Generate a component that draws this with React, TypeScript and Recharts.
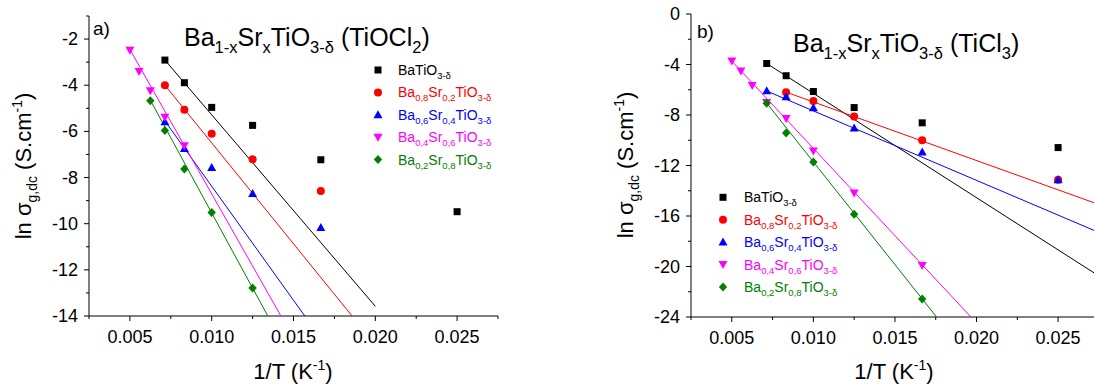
import React from 'react';
import { ScatterChart, Scatter, XAxis, YAxis } from 'recharts';

const FONT = '"Liberation Sans", Arial, sans-serif';

const BLACK = '#000000';
const RED = '#ff0000';
const BLUE = '#0000ff';
const MAGENTA = '#ff00ff';
const GREEN = '#008000';

// ---- panel a) TiOCl2 : measured points (1/T, ln sigma) ----
const aBa10 = [
  { x: 0.00714, y: -2.91 }, { x: 0.00833, y: -3.89 }, { x: 0.01, y: -4.96 },
  { x: 0.0125, y: -5.74 }, { x: 0.01667, y: -7.23 }, { x: 0.025, y: -9.48 },
];
const aBa08 = [
  { x: 0.00714, y: -4.0 }, { x: 0.00833, y: -5.06 }, { x: 0.01, y: -6.1 },
  { x: 0.0125, y: -7.21 }, { x: 0.01667, y: -8.58 },
];
const aBa06 = [
  { x: 0.00714, y: -5.58 }, { x: 0.00833, y: -6.74 }, { x: 0.01, y: -7.56 },
  { x: 0.0125, y: -8.69 }, { x: 0.01667, y: -10.17 },
];
const aBa04 = [
  { x: 0.005, y: -2.48 }, { x: 0.00556, y: -3.4 }, { x: 0.00625, y: -4.24 },
  { x: 0.00714, y: -5.39 }, { x: 0.00833, y: -6.62 },
];
const aBa02 = [
  { x: 0.00625, y: -4.67 }, { x: 0.00714, y: -5.96 }, { x: 0.00833, y: -7.63 },
  { x: 0.01, y: -9.51 }, { x: 0.0125, y: -12.79 },
];
// fitted lines, end points
const aFit10 = [{ x: 0.00714, y: -2.91 }, { x: 0.02, y: -13.58 }];
const aFit08 = [{ x: 0.00714, y: -4.0 }, { x: 0.01858, y: -14 }];
const aFit06 = [{ x: 0.00714, y: -5.55 }, { x: 0.01569, y: -14 }];
const aFit04 = [{ x: 0.005, y: -2.45 }, { x: 0.01423, y: -14 }];
const aFit02 = [{ x: 0.00625, y: -4.65 }, { x: 0.01343, y: -14 }];

// ---- panel b) TiCl3 ----
const bBa10 = [
  { x: 0.00714, y: -3.92 }, { x: 0.00833, y: -4.89 }, { x: 0.01, y: -6.14 },
  { x: 0.0125, y: -7.41 }, { x: 0.01667, y: -8.62 }, { x: 0.025, y: -10.58 },
];
const bBa08 = [
  { x: 0.00833, y: -6.19 }, { x: 0.01, y: -6.9 }, { x: 0.0125, y: -8.12 },
  { x: 0.01667, y: -10.0 }, { x: 0.025, y: -13.12 },
];
const bBa06 = [
  { x: 0.00714, y: -6.08 }, { x: 0.00833, y: -6.56 }, { x: 0.01, y: -7.43 },
  { x: 0.0125, y: -9.02 }, { x: 0.01667, y: -10.93 }, { x: 0.025, y: -13.12 },
];
const bBa04 = [
  { x: 0.005, y: -3.73 }, { x: 0.00556, y: -4.52 }, { x: 0.00625, y: -5.66 },
  { x: 0.00714, y: -7.01 }, { x: 0.00833, y: -8.28 }, { x: 0.01, y: -10.85 },
  { x: 0.0125, y: -14.18 }, { x: 0.01667, y: -19.92 },
];
const bBa02 = [
  { x: 0.00714, y: -7.06 }, { x: 0.00833, y: -9.42 }, { x: 0.01, y: -11.72 },
  { x: 0.0125, y: -15.87 }, { x: 0.01667, y: -22.57 },
];
const bFit10 = [{ x: 0.00714, y: -3.92 }, { x: 0.0272, y: -20.5 }];
const bFit08 = [{ x: 0.00833, y: -6.19 }, { x: 0.0272, y: -14.95 }];
const bFit06 = [{ x: 0.00714, y: -6.1 }, { x: 0.0272, y: -17.14 }];
const bFit04 = [{ x: 0.005, y: -3.73 }, { x: 0.01966, y: -24 }];
const bFit02 = [{ x: 0.00714, y: -7.06 }, { x: 0.01755, y: -24 }];

// ticks (major + minor)
const xTicksA = [0.0025, 0.005, 0.0075, 0.01, 0.0125, 0.015, 0.0175, 0.02, 0.0225, 0.025, 0.0275];
const xTicksB = [0.0025, 0.005, 0.0075, 0.01, 0.0125, 0.015, 0.0175, 0.02, 0.0225, 0.025];
const yTicksA = [-14, -13, -12, -11, -10, -9, -8, -7, -6, -5, -4, -3, -2, -1];
const yTicksB = [-24, -22, -20, -18, -16, -14, -12, -10, -8, -6, -4, -2, 0];

type Seg = [string, 'n' | 'b' | 'p'];
type Kind = 'square' | 'circle' | 'up' | 'down' | 'diamond';

const legendItems: { color: string; kind: Kind; label: Seg[] }[] = [
  { color: BLACK, kind: 'square', label: [['BaTiO', 'n'], ['3-δ', 'b']] },
  { color: RED, kind: 'circle', label: [['Ba', 'n'], ['0,8', 'b'], ['Sr', 'n'], ['0,2', 'b'], ['TiO', 'n'], ['3-δ', 'b']] },
  { color: BLUE, kind: 'up', label: [['Ba', 'n'], ['0,6', 'b'], ['Sr', 'n'], ['0,4', 'b'], ['TiO', 'n'], ['3-δ', 'b']] },
  { color: MAGENTA, kind: 'down', label: [['Ba', 'n'], ['0,4', 'b'], ['Sr', 'n'], ['0,6', 'b'], ['TiO', 'n'], ['3-δ', 'b']] },
  { color: GREEN, kind: 'diamond', label: [['Ba', 'n'], ['0,2', 'b'], ['Sr', 'n'], ['0,8', 'b'], ['TiO', 'n'], ['3-δ', 'b']] },
];

const seriesA = [
  { pts: aBa10, fit: aFit10 }, { pts: aBa08, fit: aFit08 }, { pts: aBa06, fit: aFit06 },
  { pts: aBa04, fit: aFit04 }, { pts: aBa02, fit: aFit02 },
];
const seriesB = [
  { pts: bBa10, fit: bFit10 }, { pts: bBa08, fit: bFit08 }, { pts: bBa06, fit: bFit06 },
  { pts: bBa04, fit: bFit04 }, { pts: bBa02, fit: bFit02 },
];

function Marker({ cx, cy, kind, color }: { cx: number; cy: number; kind: Kind; color: string }) {
  if (kind === 'square') return <rect x={cx - 3.5} y={cy - 3.5} width={7} height={7} fill={color} />;
  if (kind === 'circle') return <circle cx={cx} cy={cy} r={4} fill={color} />;
  if (kind === 'up') return <polygon points={`${cx},${cy - 4.5} ${cx + 4.5},${cy + 3.5} ${cx - 4.5},${cy + 3.5}`} fill={color} />;
  if (kind === 'down') return <polygon points={`${cx},${cy + 4.5} ${cx + 4.5},${cy - 3.5} ${cx - 4.5},${cy - 3.5}`} fill={color} />;
  return <polygon points={`${cx},${cy - 4.5} ${cx + 4.2},${cy} ${cx},${cy + 4.5} ${cx - 4.2},${cy}`} fill={color} />;
}

function Rich({ x, y, segs, size, small, subDy, supDy, fill = '#000', anchor = 'start', transform }: any) {
  let cur = 0;
  return (
    <text x={x} y={y} fontSize={size} fontFamily={FONT} fill={fill} textAnchor={anchor} transform={transform}>
      {(segs as Seg[]).map(([t, k], i) => {
        const target = k === 'b' ? subDy : k === 'p' ? -supDy : 0;
        const dy = target - cur;
        cur = target;
        return (
          <tspan key={i} dy={dy} fontSize={k === 'n' ? size : small}>
            {t}
          </tspan>
        );
      })}
    </text>
  );
}

const isMajor = (v: number, step: number) => Math.abs(v / step - Math.round(v / step)) < 1e-6;

const makeBottomTick = (step: number) => (props: any) => {
  const { x, y, payload } = props;
  const major = isMajor(payload.value, step);
  return (
    <g>
      <line x1={x} x2={x} y1={y} y2={y + (major ? 5 : 3)} stroke="#000" />
      {major && (
        <text x={x} y={y + 27} textAnchor="middle" fontSize={18} fontFamily={FONT} fill="#000">
          {payload.value.toFixed(3)}
        </text>
      )}
    </g>
  );
};
const makeTopTick = (step: number) => (props: any) => {
  const { x, y, payload } = props;
  const major = isMajor(payload.value, step);
  return <line x1={x} x2={x} y1={y} y2={y + (major ? 5 : 3)} stroke="#000" />;
};
const makeLeftTick = (step: number) => (props: any) => {
  const { x, y, payload } = props;
  const major = isMajor(payload.value, step);
  return (
    <g>
      <line x1={x - (major ? 5 : 3)} x2={x} y1={y} y2={y} stroke="#000" />
      {major && (
        <text x={x - 11} y={y} dy={6} textAnchor="end" fontSize={18} fontFamily={FONT} fill="#000">
          {payload.value}
        </text>
      )}
    </g>
  );
};
const makeRightTick = (step: number) => (props: any) => {
  const { x, y, payload } = props;
  const major = isMajor(payload.value, step);
  return <line x1={x - (major ? 5 : 3)} x2={x} y1={y} y2={y} stroke="#000" />;
};

function Panel({ width, margin, yAxisWidth, xAxisHeight, xDomain, yDomain, xTicks, yTicks, yStep, series }: any) {
  const axisLine = { stroke: '#000', strokeWidth: 1 };
  return (
    <ScatterChart width={width} height={385} margin={margin}>
      <XAxis
        type="number" dataKey="x" domain={xDomain} ticks={xTicks} interval={0} allowDataOverflow
        height={xAxisHeight} tickSize={0} tickMargin={0} tickLine={false} axisLine={axisLine}
        tick={makeBottomTick(0.005)}
      />
      <XAxis
        xAxisId="top" orientation="top" type="number" dataKey="x" domain={xDomain} ticks={xTicks} interval={0}
        allowDataOverflow height={0} tickSize={0} tickMargin={0} tickLine={false} axisLine={axisLine}
        tick={makeTopTick(0.005)}
      />
      <YAxis
        type="number" dataKey="y" domain={yDomain} ticks={yTicks} interval={0} allowDataOverflow
        width={yAxisWidth} tickSize={0} tickMargin={0} tickLine={false} axisLine={axisLine}
        tick={makeLeftTick(yStep)}
      />
      <YAxis
        yAxisId="right" orientation="right" type="number" dataKey="y" domain={yDomain} ticks={yTicks} interval={0}
        allowDataOverflow width={0} tickSize={0} tickMargin={0} tickLine={false} axisLine={axisLine}
        tick={makeRightTick(yStep)}
      />
      {series.map((s: any, i: number) => (
        <Scatter
          key={`fit-${i}`} data={s.fit} line={{ stroke: legendItems[i].color, strokeWidth: 1 }}
          shape={() => <g />} isAnimationActive={false}
        />
      ))}
      {series.map((s: any, i: number) => (
        <Scatter
          key={`pts-${i}`} data={s.pts} isAnimationActive={false}
          shape={(p: any) => <Marker cx={p.cx} cy={p.cy} kind={legendItems[i].kind} color={legendItems[i].color} />}
        />
      ))}
    </ScatterChart>
  );
}

function Legend({ mx, tx, y0 }: { mx: number; tx: number; y0: number }) {
  return (
    <g>
      {legendItems.map((it, i) => (
        <g key={i}>
          <Marker cx={mx} cy={y0 + i * 22.4} kind={it.kind} color={it.color} />
          <Rich x={tx} y={y0 + i * 22.4 + 5} segs={it.label} size={14} small={9.5} subDy={4} supDy={0} fill={it.color} />
        </g>
      ))}
    </g>
  );
}

const yLabel: Seg[] = [['ln σ', 'n'], ['g,dc', 'b'], [' (S.cm', 'n'], ['-1', 'p'], [')', 'n']];
const xLabel: Seg[] = [['1/T (K', 'n'], ['-1', 'p'], [')', 'n']];
const titleA: Seg[] = [['Ba', 'n'], ['1-x', 'b'], ['Sr', 'n'], ['x', 'b'], ['TiO', 'n'], ['3-δ', 'b'], [' (TiOCl', 'n'], ['2', 'b'], [')', 'n']];
const titleB: Seg[] = [['Ba', 'n'], ['1-x', 'b'], ['Sr', 'n'], ['x', 'b'], ['TiO', 'n'], ['3-δ', 'b'], [' (TiCl', 'n'], ['3', 'b'], [')', 'n']];

export default function App() {
  return (
    <div style={{ position: 'absolute', left: 0, top: 0, width: 1095, height: 385, overflow: 'hidden', background: '#fff' }}>
      <div style={{ position: 'absolute', left: 0, top: 0 }}>
        <Panel
          width={545} margin={{ top: 16, right: 47, bottom: 0, left: 0 }} yAxisWidth={89} xAxisHeight={69}
          xDomain={[0.0025, 0.0275]} yDomain={[-14, -1]} xTicks={xTicksA} yTicks={yTicksA} yStep={2} series={seriesA}
        />
      </div>
      <div style={{ position: 'absolute', left: 545, top: 0 }}>
        <Panel
          width={550} margin={{ top: 14, right: 1, bottom: 0, left: 0 }} yAxisWidth={146} xAxisHeight={68}
          xDomain={[0.0025, 0.0272]} yDomain={[-24, 0]} xTicks={xTicksB} yTicks={yTicksB} yStep={4} series={seriesB}
        />
      </div>
      <svg width={1095} height={385} style={{ position: 'absolute', left: 0, top: 0, pointerEvents: 'none' }}>
        {/* panel a */}
        <text x={93} y={35} fontSize={19} fontFamily={FONT}>a)</text>
        <Rich x={184} y={45.5} segs={titleA} size={25} small={16.5} subDy={7.5} supDy={0} />
        <Legend mx={378} tx={398} y0={70} />
        <Rich x={31} y={166} segs={yLabel} size={22} small={14} subDy={6} supDy={9} anchor="middle" transform="rotate(-90 31 166)" />
        <Rich x={293} y={379} segs={xLabel} size={22} small={14} subDy={6} supDy={9} anchor="middle" />
        {/* panel b */}
        <text x={697} y={38} fontSize={19} fontFamily={FONT}>b)</text>
        <Rich x={793} y={51.5} segs={titleB} size={25} small={16.5} subDy={7.5} supDy={0} />
        <Legend mx={723} tx={744} y0={197.3} />
        <Rich x={633} y={165} segs={yLabel} size={22} small={14} subDy={6} supDy={9} anchor="middle" transform="rotate(-90 633 165)" />
        <Rich x={894} y={379} segs={xLabel} size={22} small={14} subDy={6} supDy={9} anchor="middle" />
      </svg>
    </div>
  );
}
